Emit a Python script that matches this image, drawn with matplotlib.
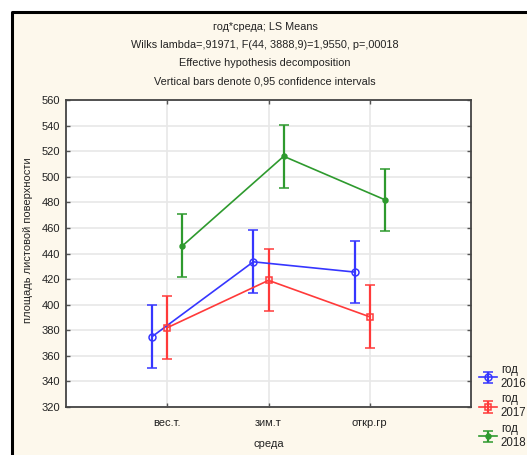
import numpy as np
import matplotlib.pyplot as plt
from matplotlib.patches import Rectangle
from matplotlib.lines import Line2D

plt.rcParams['font.family'] = ['Liberation Sans', 'DejaVu Sans']

# данные: LS means и 95% доверительные интервалы
sreda = ['вес.т.', 'зим.т', 'откр.гр']
goda = ['2016', '2017', '2018']
mean_2016 = [375.0, 433.5, 425.5]
mean_2017 = [382.0, 419.0, 390.5]
mean_2018 = [446.0, 516.0, 482.0]
ci_2016 = [24.6, 24.5, 24.5]
ci_2017 = [24.5, 24.2, 24.5]
ci_2018 = [24.5, 24.6, 24.3]

fig = plt.figure(figsize=(5.27, 4.55), dpi=100)
fig.patch.set_facecolor('white')

# кремовый фон и рамка
W, H = 527.0, 455.0
fig.patches.append(Rectangle((12 / W, 0), 1, 1 - 12 / H, transform=fig.transFigure,
                             facecolor='#fdf8ec', edgecolor='none', zorder=-2))
fig.lines.append(Line2D([12 / W, 12 / W, 1], [0, 1 - 12 / H, 1 - 12 / H],
                        transform=fig.transFigure, color='black', lw=2.2, zorder=-1))

ax = fig.add_axes([66 / W, 48 / H, 405 / W, 307 / H])
ax.set_zorder(2)
ax.set_facecolor('white')

x = np.arange(1, len(sreda) + 1)
serii = [
    (mean_2016, ci_2016, '#3636ff', 'o', 'none', -0.15),
    (mean_2017, ci_2017, '#ff3a3a', 's', 'none', 0.0),
    (mean_2018, ci_2018, '#2e9a2e', 'o', '#2e9a2e', 0.15),
]
for (m, ci, col, mk, fc, dx), god in zip(serii, goda):
    ax.errorbar(x + dx, m, yerr=ci, color=col, marker=mk, markersize=5 if fc == 'none' else 3.5,
                markerfacecolor=fc, markeredgecolor=col, markeredgewidth=1.1,
                lw=1.2, elinewidth=1.6, capsize=3.5, capthick=1.3,
                label='год\n' + god)

ax.set_xlim(0, 4)
ax.set_ylim(320, 560)
ax.set_xticks(x)
ax.set_xticklabels(sreda)
ax.set_yticks(np.arange(320, 561, 20))
ax.grid(True, color='#e8e8e8', lw=1.2)
ax.set_axisbelow(True)
ax.tick_params(direction='in', length=3, width=1, colors='#555555', labelcolor='#222222',
               labelsize=8, top=True, right=True, pad=4)
ax.tick_params(axis='x', pad=8)
for s in ax.spines.values():
    s.set_color('#444444')
    s.set_linewidth(1.3)

ax.set_ylabel('площадь листовой поверхности', fontsize=8, color='#222222')
ax.set_xlabel('среда', fontsize=8, color='#222222')
ax.yaxis.set_label_coords((28.5 - 66) / 405, (407 - 240) / 307)
ax.xaxis.set_label_coords(0.5, (407 - 444) / 307)
ax.yaxis.label.set_va('center')
ax.xaxis.label.set_va('center')

# заголовок
stroki = ['год*среда; LS Means',
          'Wilks lambda=,91971, F(44, 3888,9)=1,9550, p=,00018',
          'Effective hypothesis decomposition',
          'Vertical bars denote 0,95 confidence intervals']
for i, s in enumerate(stroki):
    fig.text(265 / W, 1 - (27 + 18 * i) / H, s, ha='center', va='center',
             fontsize=7.8, color='#222222')

leg = fig.legend(loc='upper left', bbox_to_anchor=(479 / W, 1 - 364 / H), frameon=False,
                 fontsize=8.3, handlelength=1.55, handletextpad=0.35, labelspacing=0.32,
                 borderpad=0.0, borderaxespad=0.0)
for t in leg.get_texts():
    t.set_color('#222222')

fig.savefig('out.png', dpi=100)
